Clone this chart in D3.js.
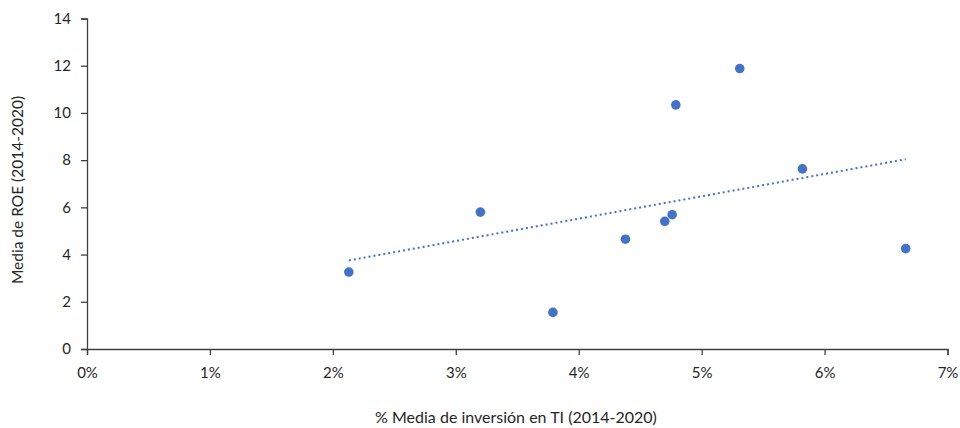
<!DOCTYPE html>
<html><head><meta charset="utf-8">
<script src="https://cdn.jsdelivr.net/npm/d3@7"></script>
<style>body{margin:0;background:#fff}svg{display:block}text{font-family:Lato,"Noto Sans",sans-serif;fill:#262626}</style>
</head><body><svg id="c" width="960" height="428"></svg>
<script>
const inversionTI = [2.13, 3.20, 3.79, 5.31, 4.79, 5.82, 4.76, 4.70, 4.38, 6.66];
const mediaROE    = [3.26, 5.80, 1.55, 11.88, 10.34, 7.63, 5.69, 5.41, 4.65, 4.25];
const xTicks = [0,1,2,3,4,5,6,7];
const yTicks = [0,2,4,6,8,10,12,14];
const xTitle = "% Media de inversión en TI (2014-2020)";
const yTitle = "Media de ROE (2014-2020)";

const svg = d3.select("#c");
const x = d3.scaleLinear().domain([0,7]).range([87,947.5]);
const y = d3.scaleLinear().domain([0,14]).range([349,18.5]);
const axisCol = "#404040";

const gx = svg.append("g").attr("transform",`translate(0,${y(0)})`)
  .call(d3.axisBottom(x).tickValues(xTicks).tickFormat(d=>d+"%").tickSizeOuter(0).tickSize(6).tickPadding(12));
const gy = svg.append("g").attr("transform",`translate(${x(0)},0)`)
  .call(d3.axisLeft(y).tickValues(yTicks).tickSizeOuter(0).tickSize(6).tickPadding(10));
[gx,gy].forEach(g=>{
  g.selectAll("path,line").attr("stroke",axisCol).attr("stroke-width",1.3);
  g.selectAll("text").style("font-size","15px").attr("fill","#262626").style("font-family","Lato,'Noto Sans',sans-serif");
});

// linear trendline (least squares over the data)
const n = inversionTI.length;
const mx = d3.mean(inversionTI), my = d3.mean(mediaROE);
let sxy=0,sxx=0;
for(let i=0;i<n;i++){sxy+=(inversionTI[i]-mx)*(mediaROE[i]-my);sxx+=(inversionTI[i]-mx)**2;}
const b = sxy/sxx, a = my-b*mx;
const x0 = d3.min(inversionTI), x1 = d3.max(inversionTI);
svg.append("line").attr("x1",x(x0)).attr("y1",y(a+b*x0)).attr("x2",x(x1)).attr("y2",y(a+b*x1))
  .attr("stroke","#4472C4").attr("stroke-width",2).attr("stroke-dasharray","2,3");

svg.append("g").selectAll("circle").data(inversionTI).join("circle")
  .attr("cx",d=>x(d)).attr("cy",(d,i)=>y(mediaROE[i])).attr("r",4.8).attr("fill","#4472C4");

svg.append("text").attr("x",516).attr("y",423).attr("text-anchor","middle").style("font-size","16px").text(xTitle);
svg.append("text").attr("transform",`translate(23,190) rotate(-90)`).attr("text-anchor","middle").style("font-size","15.5px").text(yTitle);
</script></body></html>
